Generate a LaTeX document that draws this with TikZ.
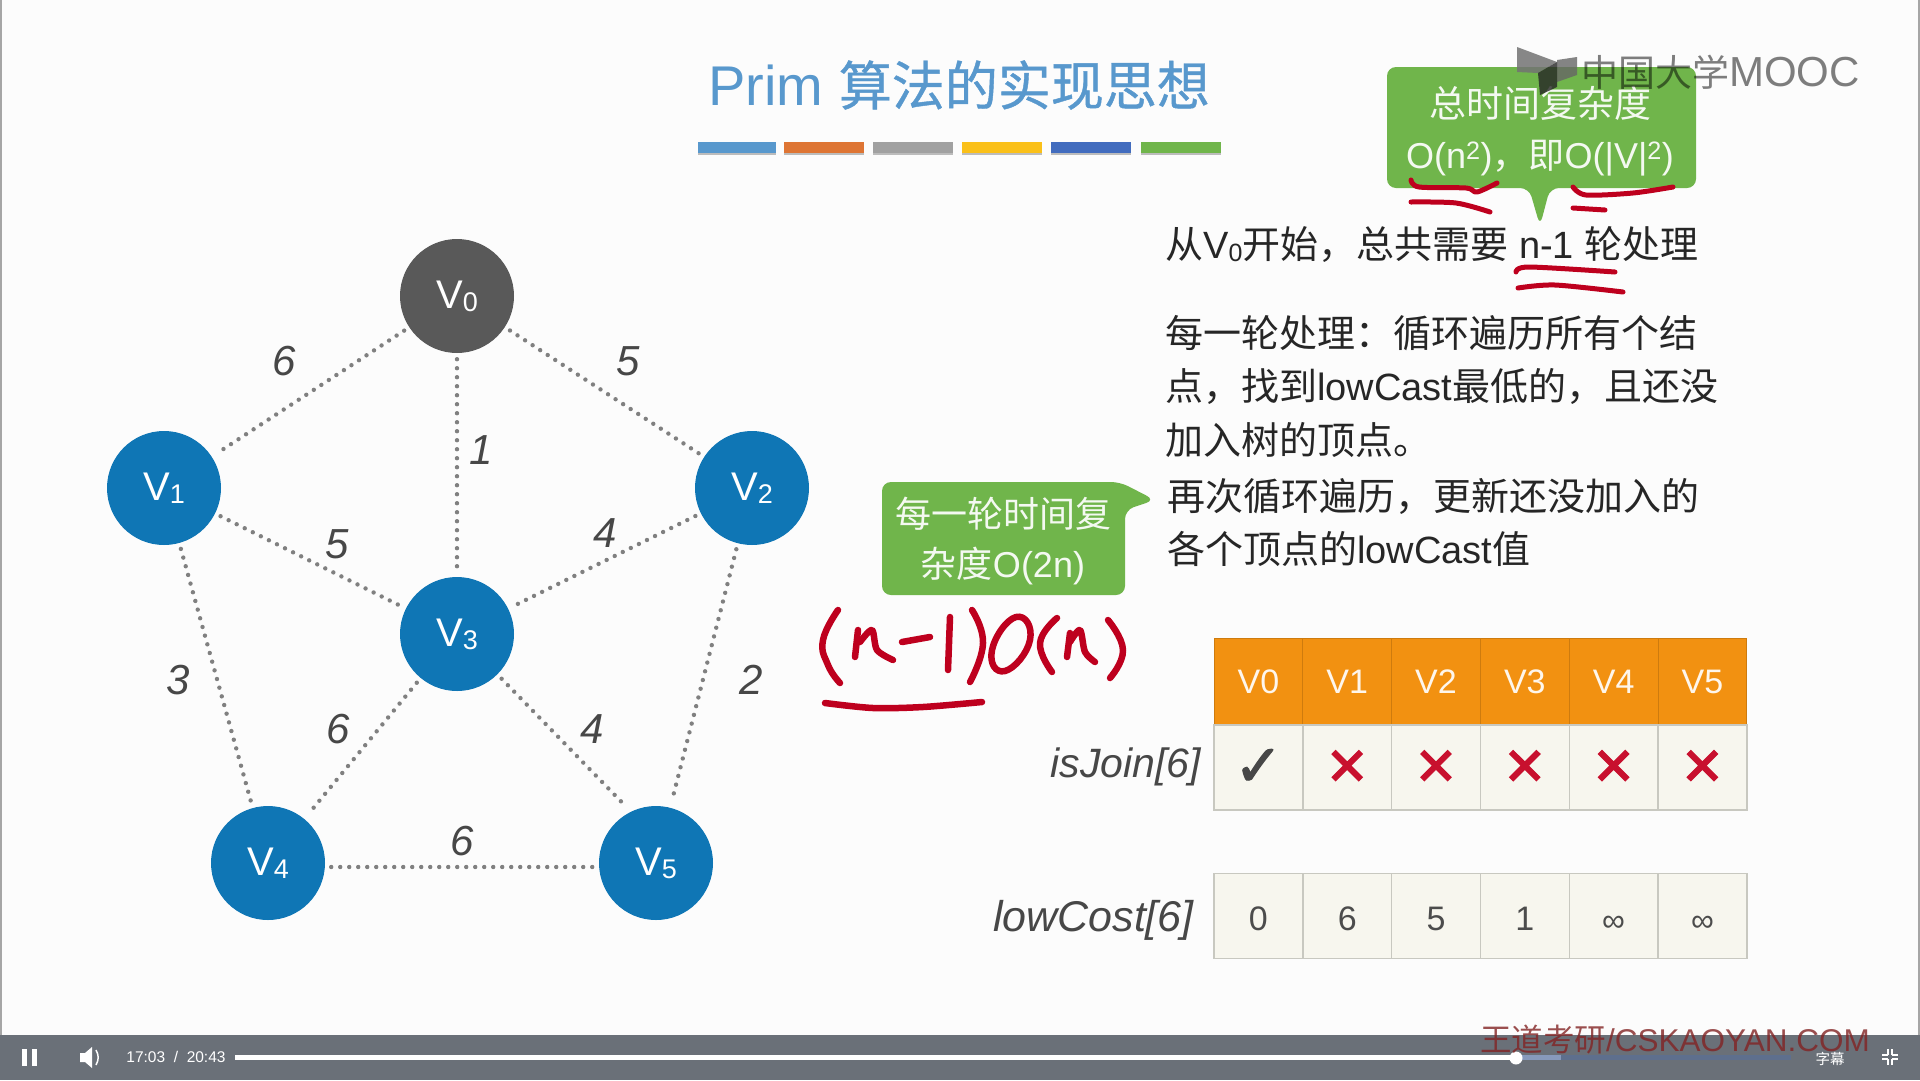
\documentclass[tikz,border=0pt]{standalone}
\usepackage{fontspec}
\usepackage{xcolor}
\setmainfont{Liberation Sans}
\newfontfamily\cjk{Noto Sans CJK SC}
\newfontfamily\cjkheavy[FakeBold=0.8]{Noto Sans CJK SC}
\newfontfamily\symfont[FakeBold=2]{DejaVu Sans}
\usetikzlibrary{positioning, shadows}
\definecolor{SlideBlue}{RGB}{15,118,181}
\definecolor{SlideGray}{RGB}{89,89,89}
\definecolor{SlideGreen}{RGB}{112,181,75}
\definecolor{SlideOrange}{RGB}{242,145,17}
\definecolor{SlideCell}{RGB}{247,246,238}
\definecolor{SlideLine}{RGB}{200,200,192}
\definecolor{PenRed}{RGB}{190,0,30}
\definecolor{CrossRed}{RGB}{200,16,46}
\definecolor{TitleBlue}{RGB}{88,152,205}
\definecolor{RuleOrange}{RGB}{222,117,52}
\definecolor{RuleYellow}{RGB}{250,192,25}
\definecolor{RuleBlue}{RGB}{66,108,190}
\definecolor{BarGray}{RGB}{106,112,120}
\definecolor{MarkRed}{RGB}{130,35,35}
\newcommand{\fsz}[1]{\fontsize{#1}{#1}\selectfont}
\newcommand{\lat}[1]{{\rmfamily #1}}
\newcommand{\lowsub}[2]{\raisebox{-3pt}{\fsz{#1}#2}}
\newcommand{\zhcomma}{\symbol{"FF0C}}
\newcommand{\zhcolon}{\symbol{"FF1A}}
\begin{document}
\begin{tikzpicture}[
          x=1pt, y=-1pt,
          vert/.style={circle, minimum size=114pt, inner sep=0pt, text=white, font=\fsz{40}},
          edge/.style={line width=4.4pt, line cap=round, dash pattern=on 0pt off 9pt,
                       black!50, shorten >=6pt, shorten <=6pt},
          cost/.style={font=\fsz{42}\itshape, text=black!72},
          txt/.style={anchor=west, font=\cjk\fsz{38}, text=black!85, inner sep=0pt},
          bubble/.style={fill=SlideGreen, draw=none, rounded corners=9pt},
          bubtxt/.style={font=\cjk\fsz{36}, text=white!92!SlideGreen, inner sep=0pt},
          head/.style={rectangle, minimum width=88.8pt, minimum height=87pt, inner sep=0pt,
                       fill=SlideOrange, draw=SlideOrange!85!black, line width=0.8pt,
                       text=white!92!SlideOrange, font=\fsz{34}},
          cell/.style={rectangle, minimum width=88.8pt, minimum height=85pt, inner sep=0pt,
                       fill=SlideCell, draw=SlideLine, line width=1.4pt,
                       text=black!70, font=\fsz{34}},
          rowname/.style={anchor=east, text=black!72, inner sep=0pt},
          pen/.style={PenRed, line width=6.5pt, line cap=round, line join=round},
          pent/.style={PenRed, line width=5pt, line cap=round, line join=round},
          rulebar/.style={minimum height=11pt, minimum width=80pt, inner sep=0pt,
                          general shadow={shadow yshift=-2.5pt, fill=black, opacity=.25}},
          player/.style={text=white, inner sep=0pt}
        ]
        \useasboundingbox (0,0) rectangle (1920,1080);
        \fill[white!99!black] (0,0) rectangle (1920,1080);
        \draw[black!35, line width=2pt] (1,0)--(1,1035);
        \draw[black!35, line width=2pt] (1919,0)--(1919,1035);

        % title and coloured rule
        \node[font=\fsz{56}, text=TitleBlue] (title) at (959,85) {Prim\ {\cjkheavy\fsz{53}算法的实现思想}};
        \node[rulebar, fill=TitleBlue, minimum width=78pt] (r1) at (737,147) {};
        \node[rulebar, fill=RuleOrange] (r2) at (824,147) {};
        \node[rulebar, fill=black!37] (r3) at (913,147) {};
        \node[rulebar, fill=RuleYellow] (r4) at (1002,147) {};
        \node[rulebar, fill=RuleBlue] (r5) at (1091,147) {};
        \node[rulebar, fill=SlideGreen] (r6) at (1181,147) {};

        % graph
        \node[vert, fill=SlideGray] (v0) at (457,296) {V\lowsub{27}{0}};
        \node[vert, fill=SlideBlue] (v1) at (164,488) {V\lowsub{27}{1}};
        \node[vert, fill=SlideBlue] (v2) at (752,488) {V\lowsub{27}{2}};
        \node[vert, fill=SlideBlue] (v3) at (457,634) {V\lowsub{27}{3}};
        \node[vert, fill=SlideBlue] (v4) at (268,863) {V\lowsub{27}{4}};
        \node[vert, fill=SlideBlue] (v5) at (656,863) {V\lowsub{27}{5}};
        \foreach \a/\b in {v0/v1, v0/v2, v0/v3, v1/v3, v2/v3, v1/v4, v2/v5, v3/v4}
          \draw[edge] (\a)--(\b);
        \draw[edge] (v3.-45)--(v5.116);
        \draw[edge] ([yshift=-4pt]v4.east)--([yshift=-4pt]v5.west);
        \node[cost] (c01) at (284,361) {6};
        \node[cost] (c02) at (628,361) {5};
        \node[cost] (c03) at (481,450) {1};
        \node[cost] (c13) at (337,544) {5};
        \node[cost] (c23) at (605,533) {4};
        \node[cost] (c14) at (178,680) {3};
        \node[cost] (c25) at (751,680) {2};
        \node[cost] (c34) at (338,729) {6};
        \node[cost] (c35) at (592,729) {4};
        \node[cost] (c45) at (462,841) {6};

        % text on the right
        \node[txt] (t1) at (1165,245) {从\lat{V}\lowsub{25}{\lat{0}}开始\zhcomma 总共需要\lat{ n-1 }轮处理};
        \node[txt] (t2) at (1165,333) {每一轮处理\zhcolon 循环遍历所有个结};
        \node[txt] (t3) at (1165,386) {点\zhcomma 找到\lat{lowCast}最低的\zhcomma 且还没};
        \node[txt] (t4) at (1165,440) {加入树的顶点。};
        \node[txt] (t5) at (1167,496) {再次循环遍历\zhcomma 更新还没加入的};
        \node[txt] (t6) at (1167,549) {各个顶点的\lat{lowCast}值};

        % callouts
        \fill[bubble] (1387,67)--(1696,67)--(1696,188)--(1550,188)--(1540,226)--(1529,188)--(1387,188)--cycle;
        \node[bubtxt, font=\cjk\fsz{37}] (b1) at (1540,103) {总时间复杂度};
        \node[bubtxt] (b2) at (1540,158) {\lat{O(n\textsuperscript{2})}\zhcomma 即\lat{O(|V|\textsuperscript{2})}};
        \fill[bubble] (882,482)--(1120,482)--(1155,500)--(1125,510)--(1125,595)--(882,595)--cycle;
        \node[bubtxt] (b3) at (1003,514) {每一轮时间复};
        \node[bubtxt] (b4) at (1003,566) {杂度\lat{O(2n)}};

        % table
        \foreach \i [count=\k from 0] in {1258.4,1347.2,1436,1524.8,1613.6,1702.4} {
          \node[head] (h\k) at (\i,682) {\raisebox{-2pt}{V\k}};
          \node[cell] (j\k) at (\i,767.5) {};
          \node[cell] (l\k) at (\i,916) {};
        }
        \node[rowname, font=\fsz{41}\itshape] (isjoin) at (1201,767) {isJoin[6]};
        \node[rowname, font=\fsz{43}\itshape] (lowcost) at (1194,920) {lowCost[6]};
        \node[font=\symfont\fsz{58}, text=black!72] (m0) at (j0) {✓};
        \foreach \k in {1,...,5}
          \node[font=\symfont\fsz{52}, text=CrossRed] (m\k) at (j\k) {✕};
        \node[font=\fsz{34}, text=black!70] (n0) at ([yshift=-3pt]l0) {0};
        \node[font=\fsz{34}, text=black!70] (n1) at ([yshift=-3pt]l1) {6};
        \node[font=\fsz{34}, text=black!70] (n2) at ([yshift=-3pt]l2) {5};
        \node[font=\fsz{34}, text=black!70] (n3) at ([yshift=-3pt]l3) {1};
        \node[font=\fsz{32}, text=black!70] (n4) at ([yshift=-8pt]l4) {∞};
        \node[font=\fsz{32}, text=black!70] (n5) at ([yshift=-8pt]l5) {∞};

        % handwriting
        \draw[pen] plot[smooth, tension=.8] coordinates {(838,610) (823,640) (828,665) (840,683)};
        \draw[pen] (858,630)--(855,657);
        \draw[pen] plot[smooth] coordinates {(860,642) (872,630) (877,650) (893,660)};
        \draw[pen] (902,642)--(930,637);
        \draw[pen] (950,617)--(948,670);
        \draw[pen] plot[smooth, tension=.8] coordinates {(972,610) (983,643) (970,682)};
        \draw[pen] plot[smooth cycle, tension=.9] coordinates {(1016,617) (992,650) (1005,671) (1030,640)};
        \draw[pen] plot[smooth, tension=.8] coordinates {(1057,618) (1040,643) (1052,672)};
        \draw[pen] (1070,633)--(1067,657);
        \draw[pen] plot[smooth] coordinates {(1070,642) (1080,630) (1085,652) (1095,662)};
        \draw[pen] plot[smooth, tension=.8] coordinates {(1108,620) (1123,650) (1110,678)};
        \draw[pen] plot[smooth] coordinates {(825,703) (873,708) (923,707) (982,702)};
        \draw[pent] plot[smooth] coordinates {(1411,180) (1419,187) (1466,188) (1477,192) (1497,183)};
        \draw[pent] plot[smooth] coordinates {(1411,202) (1456,203) (1490,212)};
        \draw[pent] plot[smooth] coordinates {(1573,187) (1586,195) (1633,193) (1673,187)};
        \draw[pent] (1573,208)--(1605,210);
        \draw[pent] plot[smooth] coordinates {(1516,272) (1529,267) (1615,272)};
        \draw[pent] plot[smooth] coordinates {(1518,288) (1555,285) (1623,292)};

        % logo
        \fill[black!55, opacity=.85] (1517,47)--(1557,62)--(1538,73)--(1517,72)--cycle;
        \fill[black!60, opacity=.8] (1557,60)--(1577,57)--(1577,75)--(1557,82)--cycle;
        \fill[black!85, opacity=.8] (1538,73)--(1557,62)--(1557,87)--(1540,95)--cycle;
        \node[font=\cjk\fsz{37}, text=black, opacity=.5, inner sep=0pt, anchor=west] (mooc) at (1581,72) {中国大学\fsz{42}\rmfamily MOOC};

        % player bar
        \fill[BarGray] (0,1035) rectangle (1920,1080);
        \fill[white] (22,1049) rectangle (27,1066);
        \fill[white] (32,1049) rectangle (37,1066);
        \fill[white] (80,1053)--(85,1053)--(92,1047)--(92,1068)--(85,1062)--(80,1062)--cycle;
        \draw[white, line width=1.5pt] (96,1050) to[bend left=30] (96,1065);
        \node[player, font=\fsz{15.5}] (clock) at (176,1057) {17:03\ \ /\ \ 20:43};
        \fill[BarGray!70!RuleBlue] (235,1055) rectangle (1791,1060);
        \fill[BarGray!45!RuleBlue!70!white] (1516,1055) rectangle (1561,1060);
        \fill[white] (235,1055) rectangle (1516,1060);
        \fill[white] (1516,1058) circle (6.5);
        \node[player, font=\cjk\fsz{14.5}] (subs) at (1830,1059) {字幕};
        \foreach \sx/\sy in {1/1,-1/1,1/-1,-1/-1}
          \draw[white, line width=2pt] (1890+\sx*2,1057+\sy*2)--(1890+\sx*2,1057+\sy*8) (1890+\sx*2,1057+\sy*2)--(1890+\sx*8,1057+\sy*2);
        \node[font=\cjk\fsz{31.5}, text=MarkRed, opacity=.8, inner sep=0pt] (mark) at (1675,1040) {王道考研{\rmfamily /CSKAOYAN.COM}};
      \end{tikzpicture}
\end{document}
